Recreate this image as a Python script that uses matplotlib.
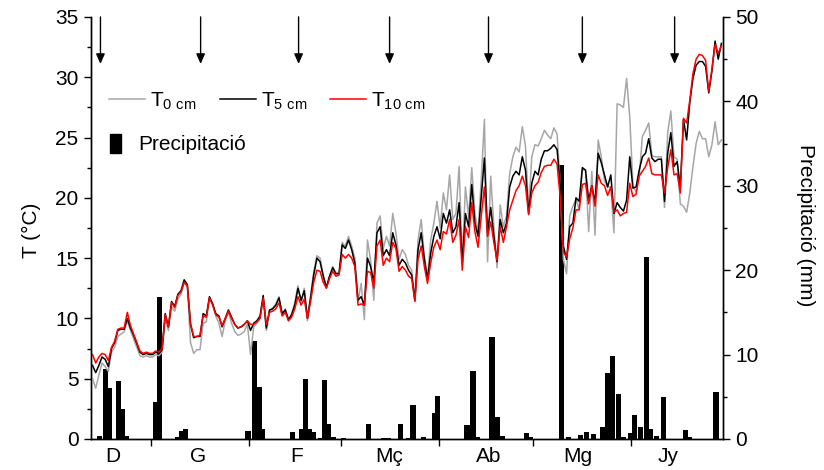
import numpy as np
import matplotlib.pyplot as plt
from matplotlib.lines import Line2D
from matplotlib.patches import Patch

plt.rcParams['font.family'] = ['Liberation Sans', 'DejaVu Sans']
plt.rcParams['mathtext.fontset'] = 'custom'
plt.rcParams['mathtext.rm'] = 'Liberation Sans'

# daily soil temperatures (day 0 = 13 Dec)
t5 = [6.1, 5.5, 6.1, 6.8, 6.6, 6.0, 7.5, 8.0, 9.0, 9.1,
      9.1, 10.0, 9.2, 8.6, 7.9, 7.2, 7.0, 7.1, 7.0, 7.0,
      7.2, 7.1, 7.4, 10.4, 9.3, 11.4, 11.0, 12.0, 12.3, 13.2,
      12.8, 9.5, 8.4, 8.5, 8.5, 10.4, 10.2, 11.8, 11.2, 10.4,
      10.2, 9.3, 10.0, 10.7, 10.1, 9.5, 9.2, 9.3, 9.5, 9.8,
      9.0, 9.6, 9.8, 10.2, 11.9, 9.2, 10.7, 10.8, 11.1, 11.7,
      10.4, 10.7, 9.9, 10.3, 11.1, 12.5, 11.5, 12.3, 10.0, 11.7,
      13.6, 15.0, 14.7, 13.5, 12.6, 13.5, 14.2, 13.7, 13.7, 16.1,
      15.8, 16.5, 15.7, 14.6, 11.5, 11.8, 11.1, 15.0, 14.3, 13.0,
      17.1, 17.6, 15.2, 15.7, 15.2, 17.1, 16.1, 14.4, 14.9, 14.6,
      14.0, 13.6, 11.5, 15.7, 17.1, 14.9, 13.2, 15.4, 16.8, 17.6,
      16.6, 18.7, 17.9, 19.0, 17.1, 17.6, 19.6, 14.6, 18.7, 17.6,
      21.1, 17.9, 16.8, 20.0, 23.3, 17.1, 19.2, 16.8, 14.7, 18.2,
      17.1, 17.9, 20.9, 21.8, 22.2, 21.9, 23.4, 22.3, 18.7, 21.2,
      22.2, 21.9, 23.2, 23.9, 23.9, 24.1, 24.4, 24.0, 21.0, 16.0,
      14.9, 17.6, 17.9, 20.0, 19.7, 22.5, 22.3, 19.8, 21.0, 19.6,
      23.7, 22.9, 21.9, 20.9, 21.9, 18.7, 19.6, 19.2, 18.9, 19.8,
      23.4, 20.8, 20.9, 22.3, 23.4, 23.7, 24.9, 23.3, 23.0, 23.2,
      23.2, 19.7, 23.7, 25.4, 22.6, 23.0, 20.9, 26.5, 24.8, 27.9,
      29.9, 31.0, 31.3, 31.3, 30.9, 28.7, 30.5, 33.0, 31.5, 32.8]

t10 = [7.0, 6.3, 6.8, 7.1, 7.0, 6.5, 7.6, 8.1, 9.1, 9.2,
       9.2, 10.5, 9.4, 8.7, 8.0, 7.3, 7.1, 7.2, 7.1, 7.1,
       7.3, 7.2, 7.5, 10.3, 9.3, 11.3, 10.9, 11.9, 12.2, 13.0,
       12.7, 9.6, 8.5, 8.5, 8.6, 10.2, 10.1, 11.7, 11.1, 10.3,
       10.1, 9.4, 10.0, 10.6, 10.0, 9.5, 9.2, 9.3, 9.5, 9.8,
       9.5, 9.5, 9.7, 10.0, 11.7, 9.5, 10.5, 10.6, 10.8, 11.3,
       10.2, 10.5, 9.8, 10.1, 10.8, 11.8, 11.1, 11.6, 10.0, 11.4,
       13.0, 14.0, 13.9, 13.0, 12.5, 13.3, 13.9, 13.5, 13.6, 15.3,
       15.0, 15.3, 15.0, 14.3, 11.1, 11.2, 11.1, 13.9, 13.8, 12.5,
       16.0, 16.5, 14.4, 15.0, 14.7, 16.3, 15.8, 13.9, 14.3, 14.0,
       13.5, 13.3, 11.4, 14.9, 16.0, 14.3, 12.9, 14.6, 15.9, 16.5,
       15.7, 17.2, 17.0, 18.2, 16.3, 16.9, 18.2, 14.0, 17.6, 16.7,
       19.6, 17.2, 15.9, 18.5, 20.9, 16.8, 18.0, 16.3, 14.8, 17.6,
       16.3, 17.6, 19.0, 19.8, 20.6, 21.0, 21.8, 21.0, 18.6, 20.4,
       21.0, 21.3, 22.1, 22.6, 22.7, 22.7, 23.2, 22.8, 20.0, 15.5,
       15.1, 16.6, 17.5, 19.0, 19.0, 21.1, 21.2, 19.5, 21.0, 19.3,
       21.9, 21.2, 21.0, 20.2, 20.9, 18.8, 19.0, 18.5, 18.7, 18.8,
       21.2, 20.1, 20.3, 21.8, 22.2, 22.6, 23.3, 22.0, 21.9, 21.9,
       21.9, 20.4, 22.5, 24.0, 21.9, 22.0, 20.4, 26.6, 26.2, 28.1,
       30.3, 31.5, 31.9, 31.8, 31.4, 28.8, 30.7, 32.7, 32.0, 32.6]

t0 = [5.0, 4.2, 5.3, 6.3, 6.0, 5.6, 7.2, 7.6, 8.5, 8.7,
      8.9, 9.8, 9.0, 8.3, 7.6, 6.9, 6.8, 6.9, 6.8, 6.8,
      7.0, 6.9, 7.2, 10.0, 9.0, 11.0, 10.6, 11.6, 12.0, 13.0,
      12.6, 8.0, 7.1, 7.4, 7.4, 9.6, 9.7, 11.7, 11.2, 10.2,
      9.6, 8.5, 9.8, 10.5, 9.6, 8.9, 8.6, 8.7, 8.9, 9.5,
      7.0, 9.3, 9.6, 10.0, 11.6, 9.0, 10.6, 10.8, 11.2, 11.8,
      10.3, 10.8, 9.8, 10.4, 11.3, 12.7, 11.3, 12.5, 9.8, 11.9,
      13.9, 15.2, 15.0, 13.6, 12.5, 13.5, 14.3, 13.8, 13.8, 16.3,
      16.0, 16.8, 16.0, 15.0, 11.4, 12.9, 9.9, 16.5, 14.8, 11.5,
      17.9, 18.5, 15.8, 16.8, 16.0, 18.7, 17.1, 14.9, 15.7, 15.3,
      14.4, 14.0, 11.5, 16.5, 18.2, 15.2, 13.4, 16.5, 17.9, 19.7,
      17.5, 20.4, 19.0, 21.9, 18.2, 18.7, 22.6, 14.8, 20.9, 18.4,
      22.5, 18.7, 17.1, 21.5, 26.5, 14.7, 21.8, 17.6, 14.2, 19.4,
      17.6, 18.5, 22.0, 23.4, 24.2, 23.8, 25.9, 24.3, 19.0, 23.4,
      24.4, 24.3, 24.9, 25.6, 25.2, 24.9, 25.8, 25.3, 21.0, 14.9,
      13.7, 18.5, 19.3, 19.9, 19.0, 22.3, 22.3, 17.2, 22.2, 16.9,
      24.8, 23.4, 21.4, 20.9, 20.9, 17.1, 27.8, 27.7, 27.5, 29.9,
      26.7, 21.0, 20.5, 21.8, 25.1, 25.6, 26.2, 23.5, 23.4, 23.4,
      23.4, 19.2, 25.4, 27.2, 23.4, 23.2, 19.5, 19.3, 18.8, 20.4,
      22.6, 24.5, 25.5, 24.9, 24.9, 23.4, 24.4, 26.3, 24.4, 24.8]

# precipitation events: day and mm
rain_day = [2.3, 4.0, 5.4, 8.3, 9.6, 10.6, 19.9, 21.2, 26.9, 28.1, 29.5,
            49.2, 51.2, 52.7, 53.7, 63.4, 66.0, 67.4, 68.8, 69.8, 72.0,
            73.3, 74.6, 76.2, 79.3, 87.4, 92.1, 93.5, 97.4, 99.9, 101.4,
            104.6, 108.1, 109.3, 118.5, 120.4, 121.8, 126.4, 128.0, 129.6,
            137.3, 138.7, 148.4, 150.5, 154.4, 156.3, 158.4, 161.5, 163.1,
            164.5, 166.4, 167.9, 170.2, 171.5, 173.4, 175.3, 176.7, 178.5,
            180.7, 187.5, 188.9, 197.3]
rain_mm = [0.4, 8.3, 6.0, 6.9, 3.6, 0.3, 4.4, 16.8, 0.2, 0.9, 1.2,
           0.9, 11.6, 6.1, 1.2, 0.8, 1.2, 7.1, 1.2, 0.8, 0.15,
           7.0, 1.8, 0.2, 0.15, 1.8, 0.15, 0.15, 1.8, 0.15, 4.0,
           0.2, 3.1, 5.1, 1.6, 8.0, 0.2, 12.1, 2.6, 0.4,
           0.7, 0.2, 32.4, 0.2, 0.5, 0.8, 0.6, 1.4, 7.8,
           9.8, 5.3, 0.2, 0.7, 2.8, 1.4, 21.5, 1.2, 0.3,
           5.0, 1.1, 0.2, 5.6]

month_edges = [18.5, 49.5, 78.5, 109.5, 139.5, 170.5]
month_pos = [6.5, 33.5, 64.5, 94, 125.5, 153.5, 182]
month_names = ['D', 'G', 'F', 'Mç', 'Ab', 'Mg', 'Jy']
arrow_days = [2.5, 34.2, 65.2, 94.0, 125.3, 155.0, 184.2]

days = np.arange(len(t5))

fig = plt.figure(figsize=(8.24, 4.70), dpi=100)
ax = fig.add_axes([0.1104, 0.066, 0.767, 0.898])
ax2 = ax.twinx()
ax.set_zorder(ax2.get_zorder() + 1)
ax.patch.set_visible(False)

ax2.bar(rain_day, rain_mm, width=1.6, color='black', linewidth=0)

ax.plot(days, t0, color='#a6a6a6', lw=1.1)
ax.plot(days, t5, color='black', lw=1.1)
ax.plot(days, t10, color='#ff0000', lw=1.1)

for d in arrow_days:
    ax.annotate('', xy=(d, 31.1), xytext=(d, 35),
                arrowprops=dict(arrowstyle='-|>,head_length=0.5,head_width=0.22',
                                color='black', lw=1, mutation_scale=12,
                                shrinkA=0, shrinkB=0))

ax.set_xlim(-0.5, 199.5)
ax.set_ylim(0, 35)
ax2.set_ylim(0, 50)

fs = 15
ax.set_yticks(np.arange(0, 36, 5))
ax.set_yticks(np.arange(2.5, 35, 5), minor=True)
ax2.set_yticks(np.arange(0, 51, 10))
ax2.set_yticks(np.arange(5, 50, 10), minor=True)
ax.tick_params(axis='y', which='major', length=5, width=1, labelsize=fs, pad=4)
ax.tick_params(axis='y', which='minor', length=3, width=1)
ax2.tick_params(axis='y', which='major', length=5, width=1, labelsize=fs, pad=4)
ax2.tick_params(axis='y', which='minor', length=3, width=1)

ax.set_xticks(month_edges)
ax.set_xticklabels([''] * len(month_edges))
ax.set_xticks(month_pos, minor=True)
ax.set_xticklabels(month_names, minor=True)
ax.tick_params(axis='x', which='major', length=5, width=1, direction='out')
ax.tick_params(axis='x', which='minor', length=0, labelsize=fs, pad=6)

for a in (ax, ax2):
    a.spines['top'].set_visible(False)
    for s in a.spines.values():
        s.set_linewidth(1)

ax.set_ylabel('T (°C)', fontsize=fs)
ax.yaxis.set_label_coords(-0.079, 0.495)
ax2.set_ylabel('Precipitació (mm)', fontsize=fs, rotation=270, va='bottom')
ax2.yaxis.set_label_coords(1.1155, 0.506)

handles = [Line2D([], [], color='#a6a6a6', lw=1.1),
           Line2D([], [], color='black', lw=1.1),
           Line2D([], [], color='#ff0000', lw=1.1)]
labels = [r'T$_\mathregular{0\ cm}$', r'T$_\mathregular{5\ cm}$',
          r'T$_\mathregular{10\ cm}$']
leg1 = ax.legend(handles, labels, ncol=3, frameon=False, fontsize=fs,
                 loc='center left', bbox_to_anchor=(0.0285, 0.80),
                 borderaxespad=0, borderpad=0, handlelength=1.73,
                 handletextpad=0.25, columnspacing=1.1)
ax.add_artist(leg1)
ax.legend([Patch(color='black')], ['Precipitació'], frameon=False,
          fontsize=fs, loc='center left', bbox_to_anchor=(0.030, 0.699),
          borderaxespad=0, borderpad=0, handlelength=0.55,
          handleheight=1.05, handletextpad=0.8)

fig.savefig('out.png', dpi=100)
